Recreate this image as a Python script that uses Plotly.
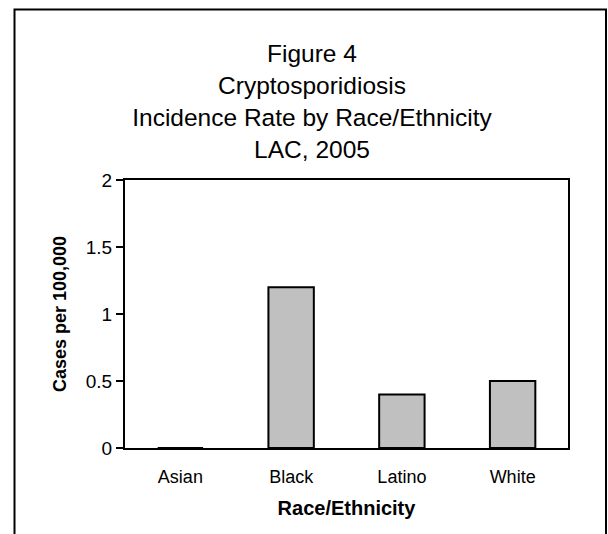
import plotly.graph_objects as go

# Incidence of cryptosporidiosis per 100,000 by race/ethnicity, LAC 2005
categories = ["Asian", "Black", "Latino", "White"]
rates = [0.0, 1.2, 0.4, 0.5]
y_ticks = [0, 0.5, 1, 1.5, 2]
y_tick_labels = ["0", "0.5", "1", "1.5", "2"]
title_lines = ["Figure 4", "Cryptosporidiosis", "Incidence Rate by Race/Ethnicity", "LAC, 2005"]

FONT = "Arial, Liberation Sans, sans-serif"

fig = go.Figure(
    go.Bar(
        x=categories,
        y=rates,
        width=0.41,
        marker=dict(color="#c0c0c0", line=dict(color="black", width=2)),
        hoverinfo="x+y",
    )
)

fig.update_layout(
    width=608,
    height=534,
    margin=dict(l=125, r=40, t=180, b=86),
    paper_bgcolor="white",
    plot_bgcolor="white",
    showlegend=False,
    font=dict(family=FONT, color="black", size=18),
    title=dict(
        text="<br>".join(title_lines),
        font=dict(family=FONT, size=24.5, color="black"),
        x=312 / 608,
        xanchor="center",
        xref="container",
        y=1 - 62 / 534,
        yanchor="top",
        yref="container",
    ),
    xaxis=dict(
        showline=True,
        linecolor="black",
        linewidth=2,
        mirror=True,
        showgrid=False,
        ticks="outside",
        ticklen=11,
        tickcolor="rgba(0,0,0,0)",
        tickfont=dict(size=18),
        title=dict(text="<b>Race/Ethnicity</b>", font=dict(size=20), standoff=15),
    ),
    yaxis=dict(
        range=[0, 2],
        tickvals=y_ticks,
        ticktext=y_tick_labels,
        showline=True,
        linecolor="black",
        linewidth=2,
        mirror=True,
        showgrid=False,
        zeroline=False,
        ticks="outside",
        ticklen=7,
        tickwidth=2,
        tickcolor="black",
        tickfont=dict(size=19),
        title=dict(text="<b>Cases per 100,000</b>", font=dict(size=18), standoff=14),
    ),
)

# Outer frame around the whole chart, running off the bottom edge
px_l, px_r, px_t, px_b = 125, 568, 180, 448
def paper_x(px):
    return (px - px_l) / (px_r - px_l)
def paper_y(py):
    return (px_b - py) / (px_b - px_t)

fig.add_shape(
    type="rect",
    xref="paper", yref="paper",
    x0=paper_x(14.5), x1=paper_x(606), y0=paper_y(545), y1=paper_y(9.5),
    line=dict(color="black", width=2),
    fillcolor="rgba(0,0,0,0)",
    layer="below",
)

fig.write_html("out.html")
